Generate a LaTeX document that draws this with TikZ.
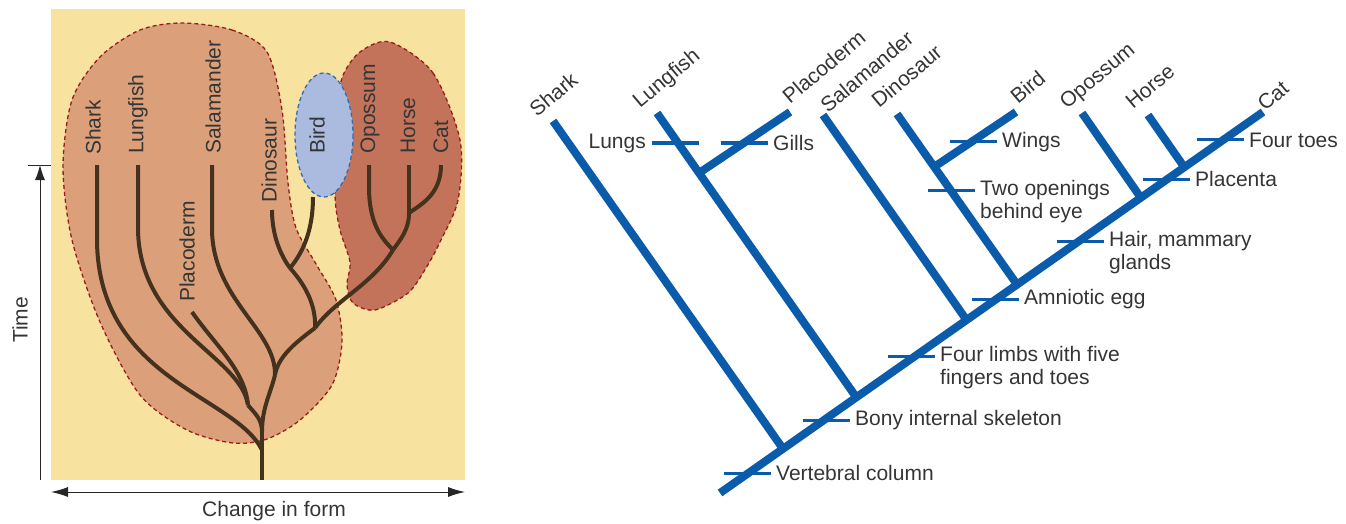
\documentclass[tikz,border=0pt]{standalone}
\usepackage{fontspec}
\setmainfont{Liberation Sans}
\usetikzlibrary{arrows.meta,positioning,calc}

\definecolor{sandbg}{HTML}{F8E2A0}
\definecolor{fishblob}{HTML}{DBA07A}
\definecolor{mammalblob}{HTML}{C4735B}
\definecolor{birdblob}{HTML}{ABBADF}
\definecolor{birdedge}{HTML}{2F6DB5}
\definecolor{blobedge}{HTML}{9B1B1B}
\definecolor{stem}{HTML}{45321E}
\definecolor{cladeblue}{HTML}{0A5CAB}
\definecolor{inkgray}{HTML}{353535}

\begin{document}
\begin{tikzpicture}[x=1pt, y=-1pt,
  every node/.style={font=\fontsize{21}{23}\selectfont, text=inkgray, inner sep=0pt},
  blob/.style={draw=blobedge, line width=1.3pt, dash pattern=on 4pt off 3pt},
  tree/.style={stem, line width=4pt, line join=round},
  clade/.style={cladeblue, line width=8pt},
  trait/.style={cladeblue, line width=3pt},
  axis/.style={black!85, line width=1pt}]

  \useasboundingbox (0,0) rectangle (1346,524);

  % === Left panel: branching through time ===
  \fill[sandbg] (51,9) rectangle (465,480);

  % Groups
  \filldraw[blob, fill=fishblob] plot[smooth cycle] coordinates {
    (182,23) (232,30) (267,52) (282,110) (288,183) (296,228) (316,264)
    (336,300) (342,342) (332,385) (300,420) (267,439) (233,443) (187,430)
    (140,395) (100,322) (72,240) (63,167) (72,100) (100,57) (140,30)};
  \filldraw[blob, fill=mammalblob] plot[smooth cycle] coordinates {
    (390,42) (433,73) (460,140) (458,200) (440,242) (426,268) (408,293)
    (375,310) (353,303) (347,285) (350,262) (340,230) (335,195) (337,120)
    (342,78) (360,52)};
  \filldraw[blob, draw=birdedge, fill=birdblob] (324,135) ellipse (29 and 62);

  % Lineages
  \coordinate (base) at (262,480);
  \coordinate (fork) at (262,425);
  \coordinate (lpJ) at (248,405);
  \coordinate (saJ) at (275,375);
  \coordinate (dbJ) at (290,268);
  \coordinate (dinoJ) at (315,328);
  \coordinate (hcJ) at (409,213);
  \coordinate (mamJ) at (393,250);

  \draw[tree] (base) -- (fork);
  \draw[tree] (97,165) -- (97,240) .. controls (98,380) and (235,395) .. (262,450);
  \draw[tree] (138,165) -- (138,230) .. controls (140,330) and (240,355) .. (lpJ);
  \draw[tree] (192,312) .. controls (215,345) and (245,370) .. (lpJ);
  \draw[tree] (lpJ) .. controls (254,413) and (262,418) .. (262,432);
  \draw[tree] (212,165) -- (212,230) .. controls (213,300) and (276,330) .. (saJ);
  \draw[tree] (saJ) .. controls (270,395) and (262,408) .. (262,432);
  \draw[tree] (272,210) .. controls (272,240) and (284,260) .. (dbJ);
  \draw[tree] (313,197) .. controls (313,235) and (300,256) .. (dbJ);
  \draw[tree] (dbJ) .. controls (308,288) and (316,308) .. (dinoJ);
  \draw[tree] (369,165) -- (369,190) .. controls (370,228) and (384,240) .. (mamJ);
  \draw[tree] (409,165) -- (hcJ);
  \draw[tree] (441,165) .. controls (441,195) and (420,205) .. (hcJ);
  \draw[tree] (hcJ) .. controls (409,230) and (400,240) .. (mamJ);
  \draw[tree] (mamJ) .. controls (372,285) and (335,300) .. (dinoJ);
  \draw[tree] (dinoJ) .. controls (292,345) and (278,358) .. (saJ);

  % Taxon names
  \foreach \x/\y/\name in {93/155/Shark, 138/154/Lungfish, 187/302/Placoderm,
      213/154/Salamander, 269/203/Dinosaur, 317/154/Bird, 370/154/Opossum,
      408/154/Horse, 441/154/Cat}
    \node[rotate=90, anchor=west] (L\name) at (\x,\y) {\name};

  % Axes
  \coordinate (tBot) at (40,480);
  \coordinate (tTop) at (40,165);
  \draw[axis] (28,165) -- (51,165);
  \draw[axis, -{Latex[length=15pt, width=10pt]}] (tBot) -- (tTop);
  \node[rotate=90] (timelbl) at (20,320) {Time};
  \coordinate (fLeft) at (51,492);
  \coordinate (fRight) at (465,492);
  \draw[axis, {Latex[length=17pt, width=10pt]}-{Latex[length=17pt, width=10pt]}] (fLeft) -- (fRight);
  \node (formlbl) at (274,511) {Change in form};

  % === Right panel: cladogram ===
  \coordinate (root) at (720,493);
  \coordinate (catT) at (1263,112);
  \coordinate (sharkJ) at ($(root)!0.116!(catT)$);
  \coordinate (lungJ) at ($(root)!0.251!(catT)$);
  \coordinate (salaJ) at ($(root)!0.454!(catT)$);
  \coordinate (dinoK) at ($(root)!0.547!(catT)$);
  \coordinate (opoJ) at ($(root)!0.775!(catT)$);
  \coordinate (horseJ) at ($(root)!0.855!(catT)$);
  \coordinate (sharkT) at (553,121);
  \coordinate (lungT) at (657,113);
  \coordinate (placT) at (790,112);
  \coordinate (salaT) at (823,115);
  \coordinate (dinoT) at (897,114);
  \coordinate (birdT) at (1016,112);
  \coordinate (opoT) at (1082,113);
  \coordinate (horseT) at (1148,115);
  \coordinate (placJ) at ($(lungJ)!0.789!(lungT)$);
  \coordinate (birdJ) at ($(dinoK)!0.69!(dinoT)$);

  \draw[clade] (root) -- (catT);
  \draw[clade] (sharkJ) -- (sharkT);
  \draw[clade] (lungJ) -- (lungT);
  \draw[clade] (placJ) -- (placT);
  \draw[clade] (salaJ) -- (salaT);
  \draw[clade] (dinoK) -- (dinoT);
  \draw[clade] (birdJ) -- (birdT);
  \draw[clade] (opoJ) -- (opoT);
  \draw[clade] (horseJ) -- (horseT);

  % Taxon names
  \foreach \x/\y/\name in {537/118/Shark, 640/109/Lungfish, 790/105/Placoderm,
      828/114/Salamander, 879/109/Dinosaur, 1018/105/Bird, 1067/110/Opossum,
      1133/110/Horse, 1265/112/Cat}
    \node[rotate=40, anchor=base west] (R\name) at (\x,\y) {\name};

  % Shared traits
  \foreach \cx/\cy/\dy/\nm/\txt in {747/473/0/vert/{Vertebral column},
      826/420/0/bony/{Bony internal skeleton},
      911/356/11.5/limbs/{Four limbs with five\\fingers and toes},
      995/299/0/amnio/{Amniotic egg},
      1080/241/11.5/hair/{Hair, mammary\\glands},
      1166/179/0/plac/{Placenta},
      1220/140/0/toes/{Four toes},
      951/190/11.5/eye/{Two openings\\behind eye},
      973/142/0/wings/{Wings},
      744/143/0/gills/{Gills}} {
    \draw[trait] (\cx-23.5,\cy) -- (\cx+23.5,\cy);
    \node[anchor=west, align=left] (\nm) at (\cx+29,\cy+\dy) {\txt};
  }
  \draw[trait] (652,143) -- (699,143);
  \node[anchor=east] (lungs) at (646,143) {Lungs};

\end{tikzpicture}
\end{document}
